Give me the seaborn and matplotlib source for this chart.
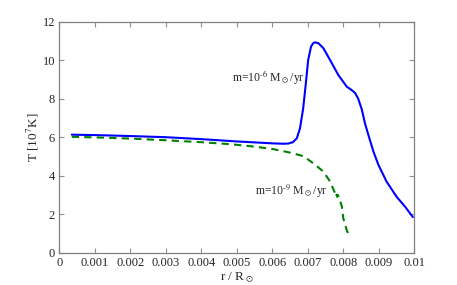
import matplotlib
matplotlib.use("Agg")
import matplotlib.pyplot as plt
import seaborn as sns
import pandas as pd

# Blue curve: m = 1e-6 Msun/yr
r_hi = [0.00035, 0.001, 0.002, 0.003, 0.004, 0.0045, 0.005, 0.0055, 0.006, 0.0063, 0.00645,
        0.00658, 0.00669, 0.00678, 0.00687, 0.00694, 0.00701, 0.00709, 0.00715, 0.0072,
        0.0073, 0.00744, 0.00763, 0.00786, 0.0081, 0.00822, 0.00833, 0.00842, 0.00852,
        0.00861, 0.00875, 0.00885, 0.00899, 0.00922, 0.0095, 0.00974, 0.00996]
T_hi = [6.13, 6.11, 6.06, 6.0, 5.9, 5.84, 5.78, 5.73, 5.68, 5.66, 5.67,
        5.74, 5.94, 6.46, 7.5, 8.71, 10.0, 10.7, 10.88, 10.93,
        10.88, 10.62, 10.0, 9.23, 8.62, 8.47, 8.3, 8.0, 7.45,
        6.72, 5.85, 5.25, 4.56, 3.69, 2.91, 2.39, 1.85]

# Green dashed curve: m = 1e-9 Msun/yr
r_lo = [0.00035, 0.001, 0.002, 0.003, 0.004, 0.0048, 0.0055, 0.006, 0.0065,
        0.00687, 0.00716, 0.00744, 0.00763, 0.00777, 0.00779, 0.00781, 0.00783,
        0.00785, 0.00787, 0.0079, 0.00796, 0.008, 0.0081, 0.00816]
T_lo = [6.02, 5.99, 5.93, 5.84, 5.74, 5.64, 5.51, 5.39, 5.2,
        5.02, 4.64, 4.21, 3.69, 3.08, 2.92, 3.02, 2.9,
        3.0, 2.88, 2.75, 2.39, 1.79, 1.15, 0.92]

label_hi = r"m=10$^{\text{-}6}$ M$_\odot$/yr"
label_lo = r"m=10$^{\text{-}9}$ M$_\odot$/yr"
xticks = [0, 0.001, 0.002, 0.003, 0.004, 0.005, 0.006, 0.007, 0.008, 0.009, 0.01]
xtick_labels = ["0", "0.001", "0.002", "0.003", "0.004", "0.005", "0.006", "0.007", "0.008", "0.009", "0.01"]
yticks = [0, 2, 4, 6, 8, 10, 12]

sns.set_style("ticks")
plt.rcParams["font.family"] = ["Liberation Serif", "DejaVu Serif"]
plt.rcParams["mathtext.fontset"] = "stix"

df_hi = pd.DataFrame({"r": r_hi, "T": T_hi})
df_lo = pd.DataFrame({"r": r_lo, "T": T_lo})

fig = plt.figure(figsize=(4.57, 2.85), dpi=100)
ax = fig.add_axes([59.3 / 457, 1 - 252.7 / 285, (414.3 - 59.3) / 457, (252.7 - 21.7) / 285])

sns.lineplot(data=df_hi, x="r", y="T", ax=ax, color="#0000ff", lw=1.5, sort=False)
sns.lineplot(data=df_lo, x="r", y="T", ax=ax, color="#008000", lw=1.5, sort=False,
             linestyle=(0, (3.5, 2.5)))
for ln in ax.get_lines():
    ln.set_solid_joinstyle("round")
    ln.set_dash_joinstyle("round")

ax.set_xlim(0, 0.01)
ax.set_ylim(0, 12)
ax.set_xticks(xticks)
ax.set_xticklabels(xtick_labels)
ax.set_yticks(yticks)
ax.tick_params(direction="in", top=True, right=True, length=3.5, width=0.8,
               color="#909090", labelsize=9, pad=3)
for s in ax.spines.values():
    s.set_color("#808080")
    s.set_linewidth(0.9)

ax.set_xlabel(r"r / R$_\odot$", fontsize=9.5, labelpad=1)
ax.set_ylabel(r"T [10$^7$K]", fontsize=9.5, labelpad=1)

ax.text(0.00690, 9.13, label_hi, fontsize=8.5, va="center", ha="right")
ax.text(0.00755, 3.17, label_lo, fontsize=8.5, va="center", ha="right")

fig.savefig("out.png", dpi=100)
